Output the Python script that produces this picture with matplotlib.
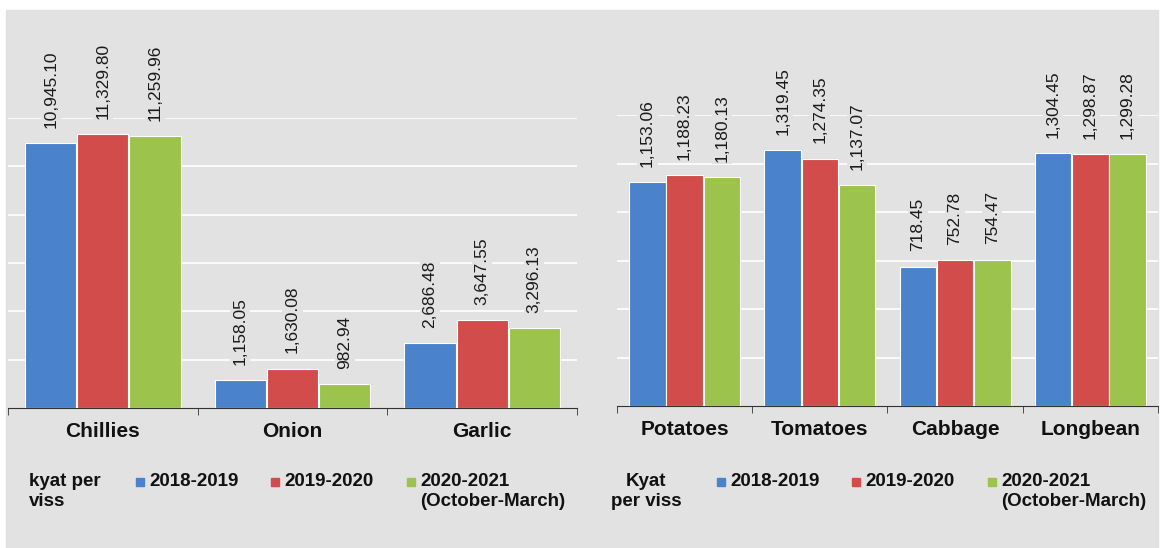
import matplotlib
matplotlib.use('Agg')
import matplotlib.pyplot as plt
from matplotlib.patches import Rectangle
import numpy as np

plt.rcParams['font.family'] = ['Liberation Sans', 'DejaVu Sans']

series = ['2018-2019', '2019-2020', '2020-2021\n(October-March)']
colors = ['#4a83cc', '#d24c4c', '#9cc34b']

spice_names = ['Chillies', 'Onion', 'Garlic']
spice_2018 = [10945.10, 1158.05, 2686.48]
spice_2019 = [11329.80, 1630.08, 3647.55]
spice_2020 = [11259.96, 982.94, 3296.13]

veg_names = ['Potatoes', 'Tomatoes', 'Cabbage', 'Longbean']
veg_2018 = [1153.06, 1319.45, 718.45, 1304.45]
veg_2019 = [1188.23, 1274.35, 752.78, 1298.87]
veg_2020 = [1180.13, 1137.07, 754.47, 1299.28]

bg = '#e2e2e2'
W, H = 1166, 548

fig = plt.figure(figsize=(W / 100, H / 100), dpi=100, facecolor='white')
fig.patches.append(Rectangle((6 / W, 0), 1 - 14 / W, 1 - 10 / H,
                             transform=fig.transFigure, color=bg, zorder=-10))


def px(x, y):
    # pixel position -> figure fraction
    return x / W, 1 - y / H


def draw_panel(rect, names, groups, ymax, step):
    ax = fig.add_axes(rect)
    ax.set_facecolor('none')
    x = np.arange(len(names))
    for i, vals in enumerate(groups):
        bars = ax.bar(x + (i - 1) * 0.275, vals, 0.27, color=colors[i],
                      edgecolor='white', linewidth=0.8, zorder=3)
        for b, v in zip(bars, vals):
            ax.annotate(f'{v:,.2f}', (b.get_x() + b.get_width() / 2, v),
                        xytext=(0, 11), textcoords='offset points',
                        rotation=90, ha='center', va='bottom', fontsize=12.5,
                        color='#1a1a1a',
                        bbox=dict(boxstyle='square,pad=0.15', fc=bg, ec='none'),
                        zorder=4)
    ax.set_xlim(-0.5, len(names) - 0.5)
    ax.set_ylim(0, ymax)
    ax.set_yticks(np.arange(step, ymax + 1, step))
    ax.grid(axis='y', color='white', lw=1.2, zorder=1)
    ax.tick_params(axis='y', length=0, labelleft=False)
    ax.set_xticks(x)
    ax.set_xticklabels(names, fontsize=15, fontweight='bold', color='#111111')
    ax.set_xticks(np.arange(len(names) + 1) - 0.5, minor=True)
    ax.tick_params(axis='x', which='major', length=0, pad=10)
    ax.tick_params(axis='x', which='minor', length=5, color='#333333',
                   direction='out')
    for s in ['top', 'left', 'right']:
        ax.spines[s].set_visible(False)
    ax.spines['bottom'].set_color('#333333')
    return ax


def draw_legend(unit_text, unit_xy, unit_ha, marker_xs):
    ux, uy = px(*unit_xy)
    fig.text(ux, uy, unit_text, ha=unit_ha, va='top', fontsize=13.5,
             fontweight='bold', linespacing=1.25, color='#111111')
    for mx, label, c in zip(marker_xs, series, colors):
        x0, y0 = px(mx, 486)
        fig.patches.append(Rectangle((x0, y0), 8 / W, 8 / H,
                                     transform=fig.transFigure, color=c,
                                     zorder=2))
        tx, ty = px(mx + 13, 473)
        fig.text(tx, ty, label, ha='left', va='top', fontsize=13.5,
                 fontweight='bold', linespacing=1.25, color='#111111')


# left panel: spices, y axis 0-12000
l0, b0 = px(8, 408)
_, t0 = px(8, 118)
draw_panel([l0, b0, (577 - 8) / W, t0 - b0], spice_names,
           [spice_2018, spice_2019, spice_2020], 12000, 2000)

# right panel: vegetables, y axis 0-1500
l1, b1 = px(617, 406)
_, t1 = px(617, 115)
draw_panel([l1, b1, (1158 - 617) / W, t1 - b1], veg_names,
           [veg_2018, veg_2019, veg_2020], 1500, 250)

draw_legend('kyat per\nviss', (29, 473), 'left', [136, 271, 407])
draw_legend('Kyat\nper viss', (646, 473), 'center', [717, 852, 988])

fig.savefig('out.png', dpi=100, facecolor=fig.get_facecolor())
